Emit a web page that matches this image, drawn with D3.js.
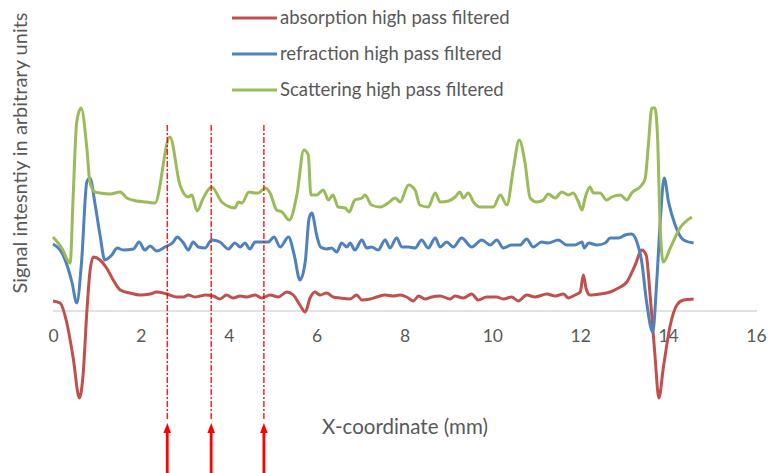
<!DOCTYPE html>
<html>
<head>
<meta charset="utf-8">
<script src="https://cdn.jsdelivr.net/npm/d3@7"></script>
<style>
  body { margin: 0; background: #fff; }
  text { font-family: Lato, "Noto Sans", sans-serif; fill: #595959; }
</style>
</head>
<body>
<svg id="chart" width="768" height="473"></svg>
<script>
// series values: [x in mm, signal in arbitrary units]
const absorption = [
  [0, 0.10], [0.16, 0.08], [0.31, -0.11], [0.46, -0.47], [0.60, -0.87], [0.69, -0.61],
  [0.77, -0.01], [0.84, 0.39], [0.92, 0.54], [1.07, 0.51], [1.22, 0.43], [1.37, 0.31],
  [1.53, 0.21], [1.75, 0.18], [1.98, 0.16], [2.21, 0.17], [2.36, 0.19], [2.59, 0.17],
  [2.82, 0.14], [2.97, 0.14], [3.08, 0.16], [3.23, 0.14], [3.35, 0.15], [3.46, 0.16],
  [3.65, 0.15], [3.80, 0.12], [3.95, 0.16], [4.10, 0.13], [4.26, 0.15], [4.41, 0.14],
  [4.60, 0.16], [4.75, 0.13], [4.94, 0.16], [5.13, 0.14], [5.32, 0.19], [5.47, 0.16],
  [5.62, 0.06], [5.74, -0.01], [5.85, 0.13], [5.96, 0.19], [6.08, 0.16], [6.23, 0.18],
  [6.38, 0.14], [6.53, 0.13], [6.76, 0.12], [6.91, 0.16], [7.03, 0.11], [7.22, 0.12],
  [7.37, 0.14], [7.56, 0.16], [7.75, 0.15], [7.90, 0.16], [8.05, 0.14], [8.20, 0.10],
  [8.32, 0.15], [8.47, 0.12], [8.62, 0.14], [8.81, 0.15], [9.04, 0.12], [9.15, 0.15],
  [9.34, 0.13], [9.53, 0.17], [9.68, 0.11], [9.87, 0.14], [10.10, 0.14], [10.25, 0.12],
  [10.44, 0.14], [10.59, 0.10], [10.78, 0.16], [10.97, 0.14], [11.24, 0.17], [11.43, 0.15],
  [11.62, 0.17], [11.73, 0.13], [11.88, 0.16], [12.00, 0.19], [12.07, 0.36], [12.13, 0.23],
  [12.22, 0.16], [12.45, 0.17], [12.68, 0.19], [12.87, 0.23], [13.06, 0.29], [13.25, 0.46],
  [13.40, 0.61], [13.50, 0.56], [13.59, 0.16], [13.70, -0.44], [13.79, -0.87], [13.89, -0.57],
  [14.05, -0.14], [14.20, 0.06], [14.35, 0.11], [14.58, 0.12]
];

const refraction = [
  [0, 0.67], [0.23, 0.56], [0.43, 0.29], [0.54, 0.08], [0.65, 0.49], [0.77, 1.29],
  [0.84, 1.33], [0.96, 1.06], [1.07, 0.76], [1.18, 0.51], [1.34, 0.56], [1.46, 0.63],
  [1.60, 0.61], [1.83, 0.62], [1.96, 0.69], [2.09, 0.61], [2.21, 0.65], [2.36, 0.60],
  [2.55, 0.64], [2.74, 0.69], [2.82, 0.74], [2.97, 0.68], [3.08, 0.61], [3.19, 0.69],
  [3.31, 0.64], [3.46, 0.63], [3.61, 0.71], [3.80, 0.69], [3.99, 0.62], [4.14, 0.68],
  [4.26, 0.64], [4.37, 0.68], [4.48, 0.62], [4.60, 0.69], [4.79, 0.69], [4.90, 0.69],
  [5.03, 0.74], [5.17, 0.64], [5.36, 0.74], [5.49, 0.56], [5.62, 0.31], [5.74, 0.49],
  [5.83, 0.93], [5.89, 0.98], [6.00, 0.76], [6.09, 0.64], [6.23, 0.62], [6.34, 0.63],
  [6.46, 0.59], [6.57, 0.68], [6.69, 0.64], [6.76, 0.68], [6.87, 0.61], [7.03, 0.71],
  [7.14, 0.63], [7.25, 0.64], [7.40, 0.61], [7.56, 0.71], [7.67, 0.63], [7.82, 0.73],
  [7.94, 0.64], [8.09, 0.64], [8.24, 0.63], [8.39, 0.71], [8.54, 0.63], [8.70, 0.73],
  [8.81, 0.64], [8.96, 0.69], [9.11, 0.64], [9.30, 0.73], [9.53, 0.64], [9.76, 0.71],
  [9.95, 0.66], [10.10, 0.71], [10.25, 0.63], [10.44, 0.66], [10.63, 0.66], [10.78, 0.72],
  [10.93, 0.64], [11.12, 0.69], [11.27, 0.68], [11.50, 0.71], [11.69, 0.66], [11.88, 0.66],
  [12.04, 0.69], [12.09, 0.63], [12.19, 0.68], [12.38, 0.66], [12.57, 0.68], [12.68, 0.73],
  [12.87, 0.73], [13.02, 0.76], [13.17, 0.77], [13.29, 0.69], [13.40, 0.49], [13.51, 0.09],
  [13.65, -0.21], [13.74, 0.29], [13.82, 0.89], [13.91, 1.33], [14.01, 1.09], [14.16, 0.86],
  [14.35, 0.71], [14.58, 0.68]
];

const scattering = [
  [0, 0.74], [0.20, 0.63], [0.39, 0.48], [0.46, 1.16], [0.54, 1.89], [0.64, 2.03],
  [0.77, 1.63], [0.84, 1.29], [0.95, 1.19], [1.07, 1.18], [1.30, 1.17], [1.53, 1.19],
  [1.68, 1.13], [1.91, 1.10], [2.13, 1.09], [2.32, 1.08], [2.66, 1.74], [2.89, 1.26],
  [3.08, 1.14], [3.16, 1.16], [3.28, 1.00], [3.42, 1.13], [3.61, 1.24], [3.84, 1.09],
  [4.03, 1.04], [4.14, 1.03], [4.22, 1.09], [4.30, 1.08], [4.46, 1.19], [4.60, 1.18],
  [4.67, 1.18], [4.83, 1.23], [4.94, 1.18], [5.09, 1.01], [5.21, 0.99], [5.38, 0.91],
  [5.55, 1.16], [5.71, 1.61], [5.81, 1.56], [5.87, 1.16], [6.00, 1.16], [6.15, 1.21],
  [6.27, 1.11], [6.37, 1.16], [6.49, 1.04], [6.65, 1.03], [6.74, 0.99], [6.87, 1.11],
  [7.03, 1.13], [7.10, 1.16], [7.25, 1.06], [7.44, 1.04], [7.63, 1.08], [7.79, 1.13],
  [7.90, 1.09], [8.09, 1.26], [8.24, 1.21], [8.35, 1.06], [8.54, 1.04], [8.70, 1.18],
  [8.81, 1.09], [9.00, 1.10], [9.15, 1.14], [9.26, 1.19], [9.34, 1.13], [9.45, 1.18],
  [9.57, 1.09], [9.72, 1.04], [9.87, 1.04], [10.02, 1.04], [10.18, 1.16], [10.33, 1.06],
  [10.48, 1.43], [10.61, 1.71], [10.74, 1.49], [10.86, 1.13], [11.01, 1.09], [11.16, 1.11],
  [11.27, 1.17], [11.43, 1.13], [11.58, 1.19], [11.73, 1.16], [11.84, 1.18], [11.96, 1.09],
  [12.04, 1.01], [12.11, 1.13], [12.22, 1.24], [12.30, 1.18], [12.45, 1.18], [12.60, 1.11],
  [12.72, 1.14], [12.91, 1.16], [13.06, 1.11], [13.17, 1.18], [13.40, 1.26], [13.48, 1.33],
  [13.55, 1.66], [13.63, 2.03], [13.70, 2.03], [13.76, 1.73], [13.82, 0.83], [13.89, 0.49],
  [14.05, 0.63], [14.27, 0.83], [14.54, 0.94]
];

const seriesNames = ['absorption high pass filtered', 'refraction high pass filtered', 'Scattering high pass filtered'];
const seriesColors = ['#c0504d', '#4f81bd', '#9bbb59'];
const xTicks = [0, 2, 4, 6, 8, 10, 12, 14, 16];
const markedX = [2.6, 3.6, 4.8]; // red dash-dot markers, mm

const svg = d3.select('#chart');

let x = d3.scaleLinear().domain([0, 16]).range([53, 756]);
let y = d3.scaleLinear().domain([-1, 2.2]).range([411, 91]);

// zero line
svg.append('line')
    .attr('x1', x(0)).attr('x2', x(16) + 1)
    .attr('y1', y(0)).attr('y2', y(0))
    .attr('stroke', '#d9d9d9').attr('stroke-width', 1.3);

// tick labels
let xAxis = d3.axisBottom(x).tickValues(xTicks).tickSize(0).tickPadding(19);
let gx = svg.append('g').attr('transform', 'translate(0,' + y(0) + ')').call(xAxis);
gx.select('.domain').remove();
gx.selectAll('text')
    .style('font-family', 'Lato, "Noto Sans", sans-serif')
    .style('font-size', '17.5px')
    .attr('fill', '#595959');

let line = d3.line()
    .x(d => x(d[0]))
    .y(d => y(d[1]))
    .curve(d3.curveMonotoneX);

[absorption, refraction, scattering].forEach((s, i) => {
    svg.append('path')
        .datum(s)
        .attr('d', line)
        .attr('fill', 'none')
        .attr('stroke', seriesColors[i])
        .attr('stroke-width', 3)
        .attr('stroke-linejoin', 'round');
});

// legend
let legend = svg.selectAll('.legend')
    .data(seriesNames)
    .enter()
    .append('g')
    .attr('transform', (d, i) => 'translate(232,' + (18 + i * 36) + ')');
legend.append('line')
    .attr('x1', 0).attr('x2', 45)
    .attr('stroke', (d, i) => seriesColors[i])
    .attr('stroke-width', 3);
legend.append('text')
    .attr('x', 48).attr('dy', '0.35em')
    .style('font-size', '18.5px')
    .text(d => d);

// dash-dot marker lines and arrows
markedX.forEach(m => {
    let mx = x(m);
    svg.append('line')
        .attr('x1', mx).attr('x2', mx)
        .attr('y1', 125).attr('y2', 420)
        .attr('stroke', '#ff0000').attr('stroke-width', 1.3)
        .attr('stroke-dasharray', '6,2,2,2');
    svg.append('line')
        .attr('x1', mx).attr('x2', mx)
        .attr('y1', 473).attr('y2', 430)
        .attr('stroke', '#ff0000').attr('stroke-width', 2.8);
    svg.append('path')
        .attr('d', d3.line()([[mx - 3.8, 433], [mx, 423], [mx + 3.8, 433]]) + 'Z')
        .attr('fill', '#ff0000');
});

// axis titles
svg.append('text')
    .attr('x', 405).attr('y', 427).attr('dy', '0.35em')
    .attr('text-anchor', 'middle')
    .style('font-size', '20.5px')
    .text('X-coordinate (mm)');

svg.append('text')
    .attr('transform', 'translate(20,153) rotate(-90)')
    .attr('dy', '0.35em')
    .attr('text-anchor', 'middle')
    .style('font-size', '20px')
    .text('Signal intesntiy in arbitrary units');
</script>
</body>
</html>
